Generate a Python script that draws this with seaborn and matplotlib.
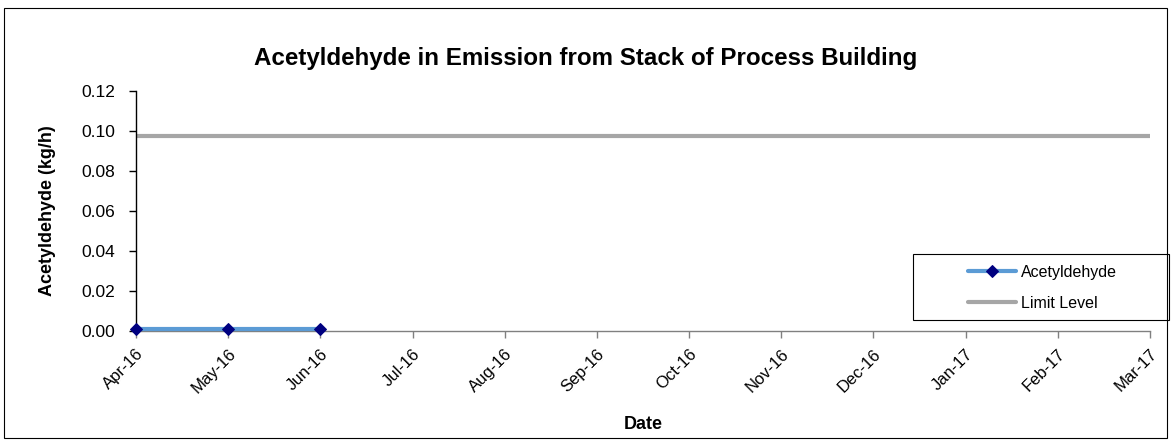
import matplotlib
matplotlib.use("Agg")
import matplotlib.pyplot as plt
import seaborn as sns
import pandas as pd
from matplotlib.patches import Rectangle

months = ["Apr-16", "May-16", "Jun-16", "Jul-16", "Aug-16", "Sep-16",
          "Oct-16", "Nov-16", "Dec-16", "Jan-17", "Feb-17", "Mar-17"]
acet_values = [0.0008, 0.0008, 0.0008]
limit_values = [0.0975] * 12
yticks = [0.00, 0.02, 0.04, 0.06, 0.08, 0.10, 0.12]

sns.set_theme(style="white")
plt.rcParams['font.family'] = ['Liberation Sans', 'DejaVu Sans']
for k in ["text.color", "axes.labelcolor", "xtick.color", "ytick.color"]:
    plt.rcParams[k] = "black"

fig = plt.figure(figsize=(11.71, 4.43), dpi=100)
ax = fig.add_axes([136/1171, 1-331/443, (1150-136)/1171, (331-91)/443])

df_a = pd.DataFrame({"x": range(len(acet_values)), "y": acet_values})
df_l = pd.DataFrame({"x": range(len(limit_values)), "y": limit_values})

sns.lineplot(data=df_l, x="x", y="y", ax=ax, color="#A6A6A6", linewidth=3,
             label="Limit Level", zorder=2)
sns.lineplot(data=df_a, x="x", y="y", ax=ax, color="#5B9BD5", linewidth=3,
             marker="D", markersize=6.5, markerfacecolor="#000080",
             markeredgecolor="#000080", label="Acetyldehyde", zorder=3, clip_on=False)

ax.set_xlim(0, len(months) - 1)
ax.set_ylim(0, 0.12)
ax.set_yticks(yticks)
ax.set_yticklabels([f"{v:.2f}" for v in yticks], fontsize=12.5)
ax.set_xticks(range(len(months)))
ax.set_xticklabels(months, rotation=45, ha="right", rotation_mode="anchor", fontsize=12)

for s in ["top", "right"]:
    ax.spines[s].set_visible(False)
ax.spines["left"].set_color("black")
ax.spines["left"].set_linewidth(1)
ax.spines["bottom"].set_color("#808080")
ax.spines["bottom"].set_linewidth(1)
ax.tick_params(axis="y", direction="out", length=5, width=1, color="black", left=True, pad=10)
ax.tick_params(axis="x", direction="out", length=5, width=1, color="#808080", bottom=True, pad=6)

ax.set_xlabel("Date", fontsize=13, fontweight="bold", labelpad=14)
ax.set_ylabel("Acetyldehyde (kg/h)", fontsize=13, fontweight="bold", labelpad=18)
fig.text(0.5, 1-58/443, "Acetyldehyde in Emission from Stack of Process Building",
         ha="center", va="center", fontsize=17.4, fontweight="bold")

handles, labels = ax.get_legend_handles_labels()
order = [labels.index("Acetyldehyde"), labels.index("Limit Level")]
leg = ax.legend([handles[i] for i in order], [labels[i] for i in order],
                loc="center left", bbox_to_anchor=(954/1171, 1-288/443),
                bbox_transform=fig.transFigure, frameon=False,
                fontsize=11.5, handlelength=3.0, handletextpad=0.3, labelspacing=1.0)

fig.patches.append(Rectangle((913/1171, 1-320/443), 256/1171, 66/443, transform=fig.transFigure,
                             fill=False, edgecolor="black", linewidth=0.8))
fig.patches.append(Rectangle((4/1171, 1-438/443), 1163/1171, 430/443, transform=fig.transFigure,
                             fill=False, edgecolor="black", linewidth=0.8))

fig.savefig("out.png", dpi=100)
